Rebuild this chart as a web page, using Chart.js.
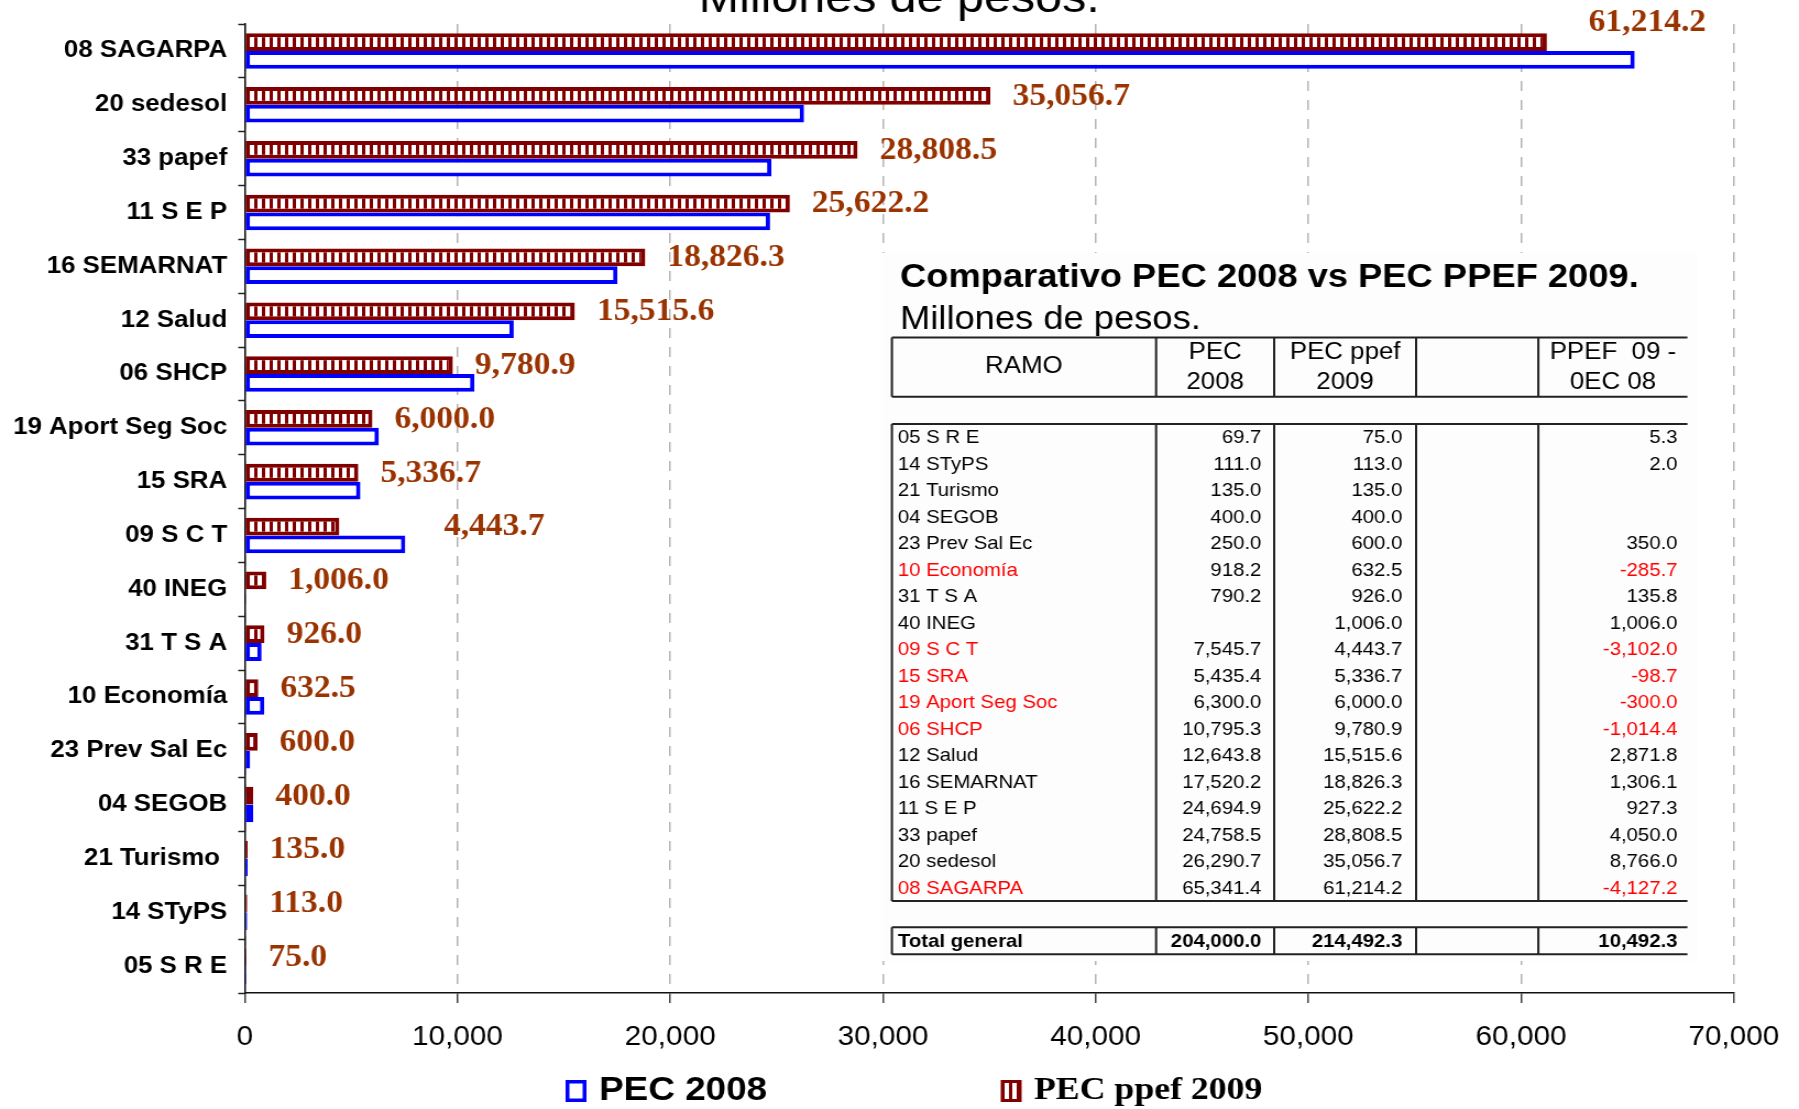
<!DOCTYPE html>
<html>
<head>
<meta charset="utf-8">
<title>Comparativo PEC 2008 vs PEC PPEF 2009</title>
<script src="https://cdn.jsdelivr.net/npm/chart.js@4.4.1/dist/chart.umd.min.js"></script>
<style>
  html, body { margin: 0; padding: 0; background: #fff; overflow: hidden; }
</style>
</head>
<body>
<!-- the original picture is a bit wider than tall, so the canvas is stretched -->
<canvas id="chart" width="1635" height="1109" style="display:block;width:1799px;height:1109px"></canvas>
<script>
const categories = ["08 SAGARPA", "20 sedesol", "33 papef", "11 S E P", "16 SEMARNAT", "12 Salud",
  "06 SHCP", "19 Aport Seg Soc", "15 SRA", "09 S C T", "40 INEG", "31 T S A", "10 Economía",
  "23 Prev Sal Ec", "04 SEGOB", "21 Turismo ", "14 STyPS", "05 S R E"];
const pec2008 = [65341.4, 26290.7, 24758.5, 24694.9, 17520.2, 12643.8, 10795.3, 6300.0, 5435.4,
  7545.7, null, 790.2, 918.2, 250.0, 400.0, 135.0, 111.0, 69.7];
const ppef2009 = [61214.2, 35056.7, 28808.5, 25622.2, 18826.3, 15515.6, 9780.9, 6000.0, 5336.7,
  4443.7, 1006.0, 926.0, 632.5, 600.0, 400.0, 135.0, 113.0, 75.0];
// PPEF 09 - PEC 08 column as printed in the table
const diff0908 = [-4127.2, 8766.0, 4050.0, 927.3, 1306.1, 2871.8, -1014.4, -300.0, -98.7,
  -3102.0, 1006.0, 135.8, -285.7, 350.0, null, null, 2.0, 5.3];
const totals = [204000.0, 214492.3, 10492.3];
const xTicks = [0, 10000, 20000, 30000, 40000, 50000, 60000, 70000];

const SANS = "'Liberation Sans', Arial, sans-serif";
const SERIF = "'Liberation Serif', 'Times New Roman', serif";
const DARKRED = "#800000";
const BLUE = "#0000ff";

function fmt(v, dec) {
  const s = Math.abs(v).toFixed(dec).split(".");
  const ent = s[0].replace(/\B(?=(\d{3})+(?!\d))/g, ",");
  return (v < 0 ? "-" : "") + ent + (s[1] ? "." + s[1] : "");
}

function stripes(ctx) {
  const c = document.createElement("canvas");
  c.width = 7;
  c.height = 4;
  const g = c.getContext("2d");
  g.fillStyle = "#fff";
  g.fillRect(0, 0, 7, 4);
  g.fillStyle = DARKRED;
  g.fillRect(0, 0, 3, 4);
  return ctx.createPattern(c, "repeat");
}

const canvas = document.getElementById("chart");
const pattern = stripes(canvas.getContext("2d"));

// value labels next to the PEC ppef 2009 bars
const valueLabels = {
  id: "valueLabels",
  afterDatasetsDraw(chart, args, opts) {
    const ctx = chart.ctx;
    const meta = chart.getDatasetMeta(0);
    ctx.save();
    ctx.font = "bold 30.5px " + SERIF;
    ctx.fillStyle = "#993300";
    ctx.textBaseline = "middle";
    ctx.textAlign = "left";
    meta.data.forEach((bar, i) => {
      const n = opts.nudge[i] || [0, 0];
      ctx.fillText(fmt(ppef2009[i], 1), bar.x + opts.offset + n[0], bar.y + 1 + n[1]);
    });
    ctx.restore();
  },
};

// inset table + cut-off title + legend
const extras = {
  id: "extras",
  afterDraw(chart) {
    const ctx = chart.ctx;
    ctx.save();

    // big title, cut by the top edge
    ctx.fillStyle = "#000";
    ctx.font = "44px " + SANS;
    ctx.textBaseline = "alphabetic";
    ctx.fillText("Millones de pesos.", 635, 12);

    // table panel
    ctx.fillStyle = "#fdfdfd";
    ctx.fillRect(800.6, 253, 743, 708);
    ctx.fillStyle = "#000";
    ctx.font = "bold 33px " + SANS;
    ctx.fillText("Comparativo PEC 2008 vs PEC PPEF 2009.", 818, 286.7);
    ctx.font = "33px " + SANS;
    ctx.fillText("Millones de pesos.", 818, 329);

    const cols = [810.6, 1050.7, 1158, 1287, 1398.1];
    const right = 1533.6;
    ctx.strokeStyle = "#222";
    ctx.lineWidth = 2;
    const box = (top, bottom) => {
      ctx.beginPath();
      ctx.moveTo(cols[0], top);
      ctx.lineTo(right, top);
      ctx.moveTo(cols[0], bottom);
      ctx.lineTo(right, bottom);
      cols.forEach((x) => {
        ctx.moveTo(x, top);
        ctx.lineTo(x, bottom);
      });
      ctx.stroke();
    };
    box(337.5, 396.7);
    box(424, 901);
    box(927.3, 954.3);

    // header
    const centers = [930.6, 1104.4, 1222.5, 1342.5, 1465.9];
    ctx.font = "23.5px " + SANS;
    ctx.textAlign = "center";
    ctx.textBaseline = "middle";
    ctx.fillText("RAMO", centers[0], 367);
    ctx.fillText("PEC", centers[1], 353);
    ctx.fillText("2008", centers[1], 383);
    ctx.fillText("PEC ppef", centers[2], 353);
    ctx.fillText("2009", centers[2], 383);
    ctx.fillText("PPEF  09 -", centers[4], 353);
    ctx.fillText("0EC 08", centers[4], 383);

    // rows, smallest first
    const rightEdges = [1146.4, 1274.5, 1524.6];
    ctx.font = "18.5px " + SANS;
    for (let k = 0; k < categories.length; k++) {
      const i = categories.length - 1 - k;
      const y = 438 + 26.5 * k;
      const neg = diff0908[i] !== null && diff0908[i] < 0;
      ctx.textAlign = "left";
      ctx.fillStyle = neg ? "#ff0000" : "#000";
      ctx.fillText(categories[i].trim(), 816, y);
      ctx.textAlign = "right";
      ctx.fillStyle = "#000";
      if (pec2008[i] !== null) ctx.fillText(fmt(pec2008[i], 1), rightEdges[0], y);
      ctx.fillText(fmt(ppef2009[i], 1), rightEdges[1], y);
      if (diff0908[i] !== null) {
        ctx.fillStyle = neg ? "#ff0000" : "#000";
        ctx.fillText(fmt(diff0908[i], 1), rightEdges[2], y);
      }
    }
    ctx.font = "bold 18.5px " + SANS;
    ctx.fillStyle = "#000";
    ctx.textAlign = "left";
    ctx.fillText("Total general", 816, 941.5);
    ctx.textAlign = "right";
    totals.forEach((t, j) => ctx.fillText(fmt(t, 1), rightEdges[j], 941.5));

    // legend
    const ds = chart.data.datasets;
    ctx.textAlign = "left";
    ctx.fillStyle = BLUE;
    ctx.fillRect(514, 1080, 19, 22);
    ctx.fillStyle = "#fff";
    ctx.fillRect(517.5, 1083.5, 12, 15);
    ctx.fillStyle = "#000";
    ctx.font = "bold 33.5px " + SANS;
    ctx.fillText(ds[1].label, 544.5, 1091);
    ctx.fillStyle = DARKRED;
    ctx.fillRect(909.5, 1080, 19, 22);
    ctx.fillStyle = pattern;
    ctx.fillRect(912.5, 1083, 13, 16);
    ctx.fillStyle = "#000";
    ctx.font = "bold 32.5px " + SERIF;
    ctx.fillText(ds[0].label, 939.7, 1091);

    ctx.restore();
  },
};

new Chart(canvas, {
  type: "bar",
  data: {
    labels: categories,
    datasets: [
      {
        label: "PEC ppef 2009",
        data: ppef2009,
        backgroundColor: pattern,
        borderColor: DARKRED,
        borderWidth: 4,
        borderSkipped: false,
      },
      {
        label: "PEC 2008",
        data: pec2008,
        backgroundColor: "#fff",
        borderColor: BLUE,
        borderWidth: 4,
        borderSkipped: false,
      },
    ],
  },
  options: {
    indexAxis: "y",
    responsive: false,
    animation: false,
    layout: { padding: { top: 23, right: 55, left: 0, bottom: 0 } },
    datasets: { bar: { categoryPercentage: 0.66, barPercentage: 1 } },
    plugins: {
      legend: { display: false },
      tooltip: { enabled: false },
      valueLabels: { offset: 20, nudge: { 0: [18, -20], 9: [75, 0] } },
    },
    scales: {
      x: {
        min: 0,
        max: 70000,
        afterBuildTicks: (s) => {
          s.ticks = xTicks.map((v) => ({ value: v }));
        },
        afterFit: (s) => {
          s.height = 116;
        },
        ticks: {
          font: { family: SANS, size: 27 },
          color: "#000",
          padding: 18,
          maxRotation: 0,
          autoSkip: false,
          callback: (v) => fmt(v, 0),
        },
        grid: {
          color: "#b4b4b4",
          lineWidth: 1.5,
          tickLength: 10,
          tickColor: "#444",
          tickWidth: 1.5,
        },
        border: { display: true, color: "#111", width: 1.5, dash: [10, 9] },
      },
      y: {
        afterFit: (s) => {
          s.width = 222.5;
        },
        ticks: {
          font: { family: SANS, size: 23.5, weight: "bold" },
          color: "#000",
          padding: 10,
        },
        grid: {
          drawOnChartArea: false,
          tickLength: 6,
          tickColor: "#222",
          tickWidth: 1.5,
        },
        border: { display: true, color: "#111", width: 1.5 },
      },
    },
  },
  plugins: [valueLabels, extras],
});
</script>
</body>
</html>
